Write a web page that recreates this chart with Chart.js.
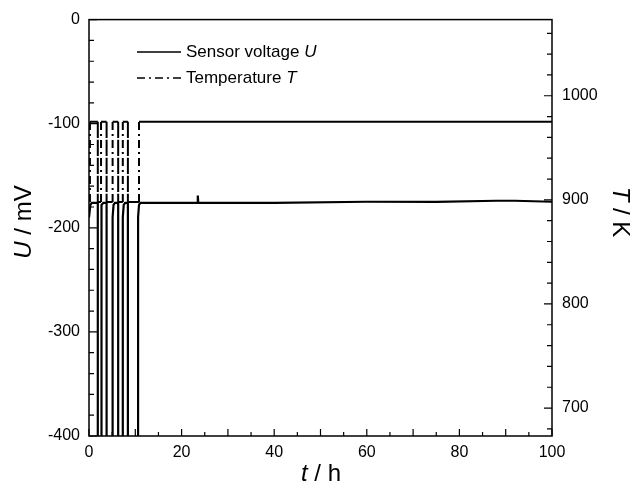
<!DOCTYPE html>
<html>
<head>
<meta charset="utf-8">
<script src="https://cdn.jsdelivr.net/npm/chart.js"></script>
<style>
html,body{margin:0;padding:0;background:#fff;}
</style>
</head>
<body>
<canvas id="c" width="636" height="493"></canvas>
<script>
// sensor voltage U (mV) against time t (h)
const uTime = [0, 0.3, 0.6, 1.9, 1.9, 2.6, 2.6, 2.8, 3.1, 3.8, 3.8, 5.1, 5.1, 5.3, 5.6, 6.3, 6.3, 7.3, 7.3, 7.5, 7.8, 8.4, 8.4, 10.6, 10.6, 10.8, 11.1, 20, 23.4, 23.5, 23.6, 40, 60, 75, 88, 92, 100];
const uVolt = [-190, -178, -176, -176, -460, -460, -190, -178, -176, -176, -460, -460, -190, -178, -176, -176, -460, -460, -190, -178, -176, -176, -460, -460, -190, -178, -176, -176, -176, -169, -176, -176, -175, -175, -174, -174, -175];
// temperature T (K) against time t (h)
const tTime = [0, 0.2, 0.2, 1.9, 1.9, 2.6, 2.6, 3.8, 3.8, 5.1, 5.1, 6.3, 6.3, 7.3, 7.3, 8.4, 8.4, 10.8, 10.8, 100];
const tKelvin = [898, 898, 975, 975, 898, 898, 975, 975, 898, 898, 975, 975, 898, 898, 975, 975, 898, 898, 975, 975];

const xTicks = [0, 20, 40, 60, 80, 100];
const uTicks = [-400, -300, -200, -100, 0];
const tTicks = [700, 800, 900, 1000];

const FONT = '"Liberation Sans", Arial, sans-serif';
const tickFont = {family: FONT, size: 16};
const DASH = [8, 4, 2, 4];

function drawParts(ctx, parts, x, y, size) {
  // parts: [text, italic]
  let w = 0;
  parts.forEach(p => { ctx.font = (p[1] ? 'italic ' : '') + size + 'px ' + FONT; w += ctx.measureText(p[0]).width; });
  let cx = x - w / 2;
  parts.forEach(p => {
    ctx.font = (p[1] ? 'italic ' : '') + size + 'px ' + FONT;
    ctx.fillText(p[0], cx, y);
    cx += ctx.measureText(p[0]).width;
  });
}

const decor = {
  id: 'decor',
  afterDraw(chart) {
    const {ctx, chartArea: a, scales} = chart;
    ctx.save();
    ctx.strokeStyle = '#000';
    ctx.fillStyle = '#000';
    ctx.lineWidth = 1.5;
    ctx.strokeRect(a.left, a.top, a.right - a.left, a.bottom - a.top);

    ctx.lineWidth = 1.2;
    ctx.beginPath();
    // bottom axis ticks, inward
    for (let v = 0; v <= 100; v += 5) {
      const px = scales.x.getPixelForValue(v);
      const len = v % 10 === 0 ? 7 : 4;
      ctx.moveTo(px, a.bottom); ctx.lineTo(px, a.bottom - len);
    }
    // left axis
    for (let v = -400; v <= 0; v += 20) {
      const py = scales.y.getPixelForValue(v);
      const len = v % 100 === 0 ? 8 : 5;
      ctx.moveTo(a.left, py); ctx.lineTo(a.left + len, py);
    }
    // right axis
    for (let v = 680; v <= 1060; v += 20) {
      const py = scales.y2.getPixelForValue(v);
      const len = v % 100 === 0 ? 8 : 5;
      ctx.moveTo(a.right, py); ctx.lineTo(a.right - len, py);
    }
    ctx.stroke();

    // legend
    ctx.lineWidth = 1.5;
    ctx.beginPath(); ctx.moveTo(137, 52); ctx.lineTo(181, 52); ctx.stroke();
    ctx.setLineDash(DASH);
    ctx.beginPath(); ctx.moveTo(137, 78); ctx.lineTo(181, 78); ctx.stroke();
    ctx.setLineDash([]);
    ctx.textBaseline = 'middle';
    ctx.textAlign = 'left';
    ctx.font = '17px ' + FONT;
    ctx.fillText('Sensor voltage ', 186, 52);
    let w = ctx.measureText('Sensor voltage ').width;
    ctx.font = 'italic 17px ' + FONT;
    ctx.fillText('U', 186 + w, 52);
    ctx.font = '17px ' + FONT;
    ctx.fillText('Temperature ', 186, 78);
    w = ctx.measureText('Temperature ').width;
    ctx.font = 'italic 17px ' + FONT;
    ctx.fillText('T', 186 + w, 78);

    // axis titles
    drawParts(ctx, [['t', true], [' / h', false]], 321, 474, 24);
    ctx.save();
    ctx.translate(24, 222);
    ctx.rotate(-Math.PI / 2);
    drawParts(ctx, [['U', true], [' / mV', false]], 0, 0, 24);
    ctx.restore();
    ctx.save();
    ctx.translate(620, 212);
    ctx.rotate(Math.PI / 2);
    drawParts(ctx, [['T', true], [' / K', false]], 0, 0, 24);
    ctx.restore();
    ctx.restore();
  }
};

new Chart(document.getElementById('c'), {
  type: 'line',
  data: {
    datasets: [{
      label: 'Sensor voltage U',
      data: uTime.map((t, i) => ({x: t, y: uVolt[i]})),
      yAxisID: 'y',
      borderColor: '#000',
      borderWidth: 2.2,
      pointRadius: 0,
      tension: 0
    }, {
      label: 'Temperature T',
      data: tTime.map((t, i) => ({x: t, y: tKelvin[i]})),
      yAxisID: 'y2',
      borderColor: '#000',
      borderWidth: 2,
      pointRadius: 0,
      tension: 0,
      // noisy plateaus look solid in the original; the dash-dot shows on the steps
      segment: {
        borderDash: c => (c.p0.parsed.x === c.p1.parsed.x ? DASH : undefined)
      }
    }]
  },
  options: {
    responsive: false,
    animation: false,
    devicePixelRatio: 1,
    layout: {padding: {top: 19, left: 0, right: 0, bottom: 0}},
    plugins: {legend: {display: false}, tooltip: {enabled: false}},
    scales: {
      x: {
        type: 'linear', min: 0, max: 100,
        afterBuildTicks: s => { s.ticks = xTicks.map(v => ({value: v})); },
        afterFit: s => { s.height = 57; },
        ticks: {font: tickFont, color: '#000', padding: 7, maxRotation: 0, autoSkip: false, callback: v => String(v)},
        grid: {display: false, drawTicks: false},
        border: {display: false}
      },
      y: {
        position: 'left', min: -400, max: 0,
        afterBuildTicks: s => { s.ticks = uTicks.map(v => ({value: v})); },
        afterFit: s => { s.width = 89; },
        ticks: {font: tickFont, color: '#000', padding: 9, autoSkip: false, callback: v => String(v)},
        grid: {display: false, drawTicks: false},
        border: {display: false}
      },
      y2: {
        position: 'right', min: 673.15, max: 1073.15,
        afterBuildTicks: s => { s.ticks = tTicks.map(v => ({value: v})); },
        afterFit: s => { s.width = 84; },
        ticks: {font: tickFont, color: '#000', padding: 10, autoSkip: false, callback: v => String(v)},
        grid: {display: false, drawTicks: false},
        border: {display: false}
      }
    }
  },
  plugins: [decor]
});
</script>
</body>
</html>
